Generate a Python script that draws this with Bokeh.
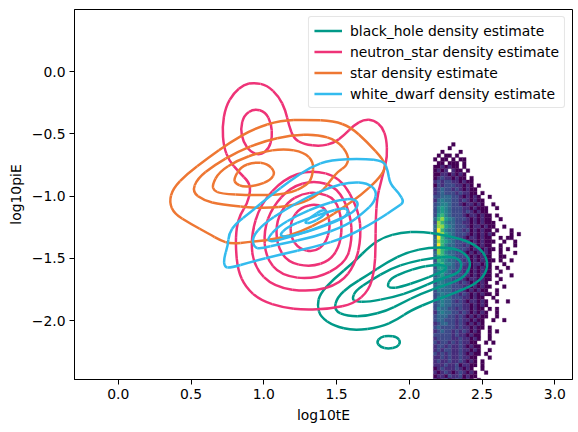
from bokeh.plotting import figure
from bokeh.models import ColumnDataSource, FixedTicker, CustomJSTickFormatter, Range1d
from bokeh.embed import file_html
from bokeh.resources import INLINE

# ---------------- data: KDE contour rings (log10tE, log10piE) ----------------
BH_L1 = [(1.367,-1.877),(1.385,-1.783),(1.481,-1.663),(1.619,-1.529),(1.734,-1.395),(1.825,-1.328),
         (1.939,-1.293),(2.077,-1.283),(2.215,-1.307),(2.398,-1.355),(2.501,-1.435),(2.540,-1.529),
         (2.524,-1.623),(2.455,-1.703),(2.329,-1.770),(2.169,-1.837),(2.008,-1.917),(1.917,-1.990),
         (1.802,-2.050),(1.619,-2.080),(1.481,-2.040),(1.390,-1.970)]
BH_L1_ISLAND = [(1.774,-2.171),(1.802,-2.131),(1.855,-2.118),(1.917,-2.131),(1.940,-2.171),
                (1.917,-2.211),(1.855,-2.225),(1.802,-2.211)]
BH_L2 = [(1.481,-1.917),(1.504,-1.810),(1.596,-1.716),(1.710,-1.636),(1.848,-1.529),(1.985,-1.449),
         (2.146,-1.409),(2.329,-1.417),(2.409,-1.489),(2.421,-1.569),(2.364,-1.663),(2.237,-1.716),
         (2.077,-1.783),(1.940,-1.863),(1.848,-1.917),(1.710,-1.963),(1.573,-1.963)]
BH_L3 = [(1.607,-1.823),(1.630,-1.757),(1.733,-1.676),(1.870,-1.582),(2.008,-1.529),(2.146,-1.497),
         (2.294,-1.483),(2.352,-1.515),(2.359,-1.569),(2.329,-1.623),(2.215,-1.663),(2.031,-1.757),
         (1.893,-1.810),(1.710,-1.850),(1.630,-1.845)]
BH_L4 = [(1.848,-1.717),(1.870,-1.663),(1.962,-1.609),(2.077,-1.569),(2.146,-1.556),(2.237,-1.550),
         (2.260,-1.583),(2.191,-1.623),(2.077,-1.676),(1.939,-1.730),(1.870,-1.738)]

NS_L1 = [(0.932,-0.088),(1.023,-0.110),(1.103,-0.200),(1.149,-0.311),(1.172,-0.431),(1.206,-0.538),
         (1.275,-0.584),(1.390,-0.600),(1.481,-0.573),(1.550,-0.512),(1.619,-0.431),(1.688,-0.385),
         (1.756,-0.390),(1.814,-0.445),(1.843,-0.538),(1.848,-0.686),(1.825,-0.793),(1.802,-0.900),
         (1.779,-1.007),(1.768,-1.194),(1.768,-1.409),(1.761,-1.596),(1.722,-1.757),(1.619,-1.864),
         (1.458,-1.904),(1.275,-1.912),(1.138,-1.896),(0.977,-1.837),(0.874,-1.730),(0.822,-1.596),
         (0.806,-1.409),(0.812,-1.248),(0.840,-1.141),(0.886,-1.060),(0.909,-0.953),(0.897,-0.886),
         (0.828,-0.806),(0.760,-0.712),(0.725,-0.605),(0.714,-0.445),(0.737,-0.284),(0.794,-0.170),
         (0.863,-0.105)]
NS_L2_UPPER = [(0.932,-0.297),(1.012,-0.324),(1.051,-0.418),(1.058,-0.525),(1.035,-0.619),
               (0.977,-0.672),(0.909,-0.646),(0.858,-0.565),(0.840,-0.458),(0.863,-0.351)]
NS_L2 = [(1.321,-0.788),(1.527,-0.846),(1.653,-1.114),(1.669,-1.328),(1.630,-1.542),(1.527,-1.703),
         (1.321,-1.770),(1.069,-1.730),(0.932,-1.569),(0.909,-1.328),(0.977,-1.061),(1.138,-0.860)]
NS_L3 = [(1.344,-0.873),(1.504,-0.927),(1.596,-1.141),(1.607,-1.355),(1.561,-1.542),(1.344,-1.671),
         (1.115,-1.636),(1.012,-1.489),(1.000,-1.275),(1.058,-1.087),(1.184,-0.927)]
NS_L4 = [(1.367,-0.967),(1.493,-1.020),(1.538,-1.194),(1.527,-1.382),(1.458,-1.516),(1.321,-1.569),
         (1.160,-1.529),(1.087,-1.382),(1.087,-1.194),(1.160,-1.047),(1.264,-0.980)]
NS_L5 = [(1.367,-1.061),(1.436,-1.114),(1.458,-1.248),(1.424,-1.382),(1.344,-1.449),(1.242,-1.422),
         (1.184,-1.328),(1.184,-1.194),(1.253,-1.087)]

ST_L1 = [(0.350,-1.047),(0.375,-0.940),(0.473,-0.820),(0.611,-0.699),(0.771,-0.565),(0.932,-0.458),
         (1.115,-0.391),(1.298,-0.386),(1.481,-0.397),(1.596,-0.445),(1.710,-0.565),(1.825,-0.712),
         (1.837,-0.779),(1.779,-0.873),(1.665,-0.994),(1.550,-1.087),(1.412,-1.194),(1.252,-1.288),
         (1.092,-1.342),(0.909,-1.368),(0.771,-1.382),(0.702,-1.355),(0.622,-1.302),(0.496,-1.221),
         (0.385,-1.141)]
ST_L2 = [(0.508,-0.967),(0.542,-0.860),(0.657,-0.753),(0.817,-0.645),(1.000,-0.557),(1.184,-0.512),
         (1.367,-0.504),(1.504,-0.552),(1.584,-0.672),(1.573,-0.753),(1.504,-0.806),(1.458,-0.873),
         (1.390,-0.980),(1.229,-1.074),(0.977,-1.101),(0.702,-1.066),(0.588,-1.034)]
ST_L3 = [(0.645,-0.913),(0.691,-0.806),(0.817,-0.713),(0.977,-0.646),(1.138,-0.619),(1.275,-0.646),
         (1.344,-0.726),(1.332,-0.847),(1.298,-0.913),(1.160,-0.986),(0.909,-0.994),(0.702,-0.980),
         (0.657,-0.953)]
ST_L4 = [(0.794,-0.860),(0.840,-0.766),(0.932,-0.726),(1.023,-0.739),(1.080,-0.806),(1.046,-0.873),
         (0.955,-0.913),(0.863,-0.927),(0.805,-0.900)]

WD_L1 = [(0.730,-1.569),(0.725,-1.502),(0.753,-1.395),(0.760,-1.302),(0.805,-1.221),(0.909,-1.128),
         (1.046,-0.994),(1.184,-0.873),(1.321,-0.766),(1.458,-0.707),(1.688,-0.699),(1.825,-0.718),
         (1.852,-0.793),(1.866,-0.900),(1.928,-0.975),(1.965,-1.047),(1.917,-1.087),(1.779,-1.194),
         (1.573,-1.328),(1.344,-1.409),(1.115,-1.468),(0.909,-1.529),(0.771,-1.575)]
WD_L2 = [(0.932,-1.409),(0.920,-1.328),(1.000,-1.221),(1.138,-1.114),(1.298,-1.007),(1.458,-0.927),
         (1.596,-0.886),(1.710,-0.894),(1.775,-0.953),(1.761,-1.047),(1.688,-1.128),(1.573,-1.234),
         (1.344,-1.328),(1.115,-1.382),(0.977,-1.422)]
WD_L3 = [(1.023,-1.342),(1.092,-1.248),(1.229,-1.154),(1.390,-1.074),(1.527,-1.028),(1.618,-1.020),
         (1.653,-1.061),(1.619,-1.128),(1.504,-1.194),(1.321,-1.275),(1.138,-1.342),(1.046,-1.368)]
WD_L4 = [(1.103,-1.315),(1.160,-1.248),(1.298,-1.181),(1.436,-1.128),(1.538,-1.093),(1.584,-1.109),
         (1.561,-1.168),(1.458,-1.221),(1.298,-1.288),(1.160,-1.328)]
WD_L5 = [(1.275,-1.216),(1.321,-1.168),(1.401,-1.109),(1.436,-1.120),(1.401,-1.168),(1.321,-1.216)]

CLASSES = ["black_hole", "neutron_star", "star", "white_dwarf"]
CLASS_RINGS = {
    "black_hole": [BH_L1, BH_L1_ISLAND, BH_L2, BH_L3, BH_L4],
    "neutron_star": [NS_L1, NS_L2_UPPER, NS_L2, NS_L3, NS_L4, NS_L5],
    "star": [ST_L1, ST_L2, ST_L3, ST_L4],
    "white_dwarf": [WD_L1, WD_L2, WD_L3, WD_L4, WD_L5],
}

# ---------------- data: 2-D count map of the black_hole sample (hexbin) ----------------
# bins: log10tE from 2.165 in steps of 0.025 (columns), log10piE from -0.57 down in steps of 0.03 (rows)
# ' ' = empty, '.' = lowest count, '1'..'8' = increasing count
HEX_X_START, HEX_X_STEP = 2.165, 0.025
HEX_Y_START, HEX_Y_STEP = -0.57, 0.03
HEX_MAP = [
    "     .                   ",
    "    .                    ",
    "  .    .                 ",
    " . .. .                  ",
    ". .. . ..                ",
    " .. ... .                ",
    "..1.1.. .                ",
    ".1.1 1.. .               ",
    "..11.1.1.                ",
    ".1211.1.. .              ",
    "1212211.1..              ",
    ".2122211.1. .            ",
    "12322121.1..             ",
    "1232221211.. .           ",
    "22333221.1.1.  .         ",
    "1343322121.1..           ",
    "23443221.11.1.  .        ",
    "2454322211.1...  .       ",
    "24543222121.1..          ",
    "256432221.11.1.. .       ",
    "3675432221.1.1..  .      ",
    "2764332211.1.1...        ",
    "3775432221.11.1..  .     ",
    "3864332212.1.1.. .   .   ",
    "2775432221.1.1.1.    . . ",
    "386433221.11.1..  . ..   ",
    "3765432221.1.1...  .  .  ",
    "3864332212.1.1..  .   .  ",
    "2765432221.11.1.. . .    ",
    "376433221.1.1.1.  .   .  ",
    "3665432221.1.1..  ..     ",
    "2654332212.1.1... .  .   ",
    "3564432221.11.1.   .     ",
    "2554332211.1.1.. .  .    ",
    "3454322212.1.1..  .      ",
    "2453322211.1.1.. .   .   ",
    "344332221.11.1..  .      ",
    "2443322121.1.1.  .       ",
    "3443322211.1.1..   .     ",
    "243332221.1.1..  .       ",
    "2343322121.1.1.. .       ",
    "2443322211.1..  .        ",
    "234332121.11.1.  .  .    ",
    "2343322211.1.1.          ",
    "2433221211.1.. . .       ",
    "1343322121.1.1.  .       ",
    "233322121.1.1..  .       ",
    "2332221211.1..  .  .     ",
    "123322121.1.1.           ",
    "2322221211.1.. .         ",
    "1232212121.1.  . .       ",
    "222221211.1..  .         ",
    "1222211211.1.  .         ",
    "2122121211..  . .        ",
    "122121121.1..            ",
    "1212211211.1.  .         ",
    "212121121.1.. .          ",
    "1121211211..   .         ",
    "121121121.1. .           ",
    "1112112.11.. .           ",
    ".1211121.1.  .           ",
    "1.121.121.1.  .          ",
    ".11.2112.1..             ",
    "1.12.121.1. .            ",
]

X_TICKS = [0.0, 0.5, 1.0, 1.5, 2.0, 2.5, 3.0]
Y_TICKS = [-2.0, -1.5, -1.0, -0.5, 0.0]

# ---------------- styles ----------------
COLORS = {"black_hole": "#009988", "neutron_star": "#EE3377", "star": "#EE7733", "white_dwarf": "#33BBEE"}
VIRIDIS9 = ["#440154", "#472d7b", "#3e4a89", "#31688e", "#26828e", "#1f9e89", "#35b779", "#90d743", "#fde725"]
FONT = "DejaVu Sans"
FS = "13.9px"

p = figure(width=578, height=432, output_backend="svg", toolbar_location=None,
           x_range=Range1d(-0.301, 3.121), y_range=Range1d(-2.471, 0.498),
           min_border_left=74, min_border_right=6, min_border_top=9, min_border_bottom=53)
p.background_fill_color = "white"
p.border_fill_color = "white"
p.xgrid.visible = False
p.ygrid.visible = False
p.outline_line_color = "black"
p.outline_line_width = 1
p.outline_line_alpha = 1

# hexbin-like count cells
hx, hy, hc = [], [], []
for j, row in enumerate(HEX_MAP):
    for k, ch in enumerate(row):
        if ch == " ":
            continue
        lvl = 0 if ch == "." else int(ch)
        hx.append(HEX_X_START + HEX_X_STEP * (k + 0.5))
        hy.append(HEX_Y_START - HEX_Y_STEP * (j + 0.5))
        hc.append(VIRIDIS9[lvl])
p.rect(x="x", y="y", width=HEX_X_STEP, height=HEX_Y_STEP,
       source=ColumnDataSource(dict(x=hx, y=hy, c=hc)),
       fill_color="c", line_color="c", line_width=0.3)

# contour rings, drawn as smooth quadratic curves through the ring points
def ring_segments(rings):
    d = dict(x0=[], y0=[], x1=[], y1=[], cx=[], cy=[])
    for ring in rings:
        n = len(ring)
        for i in range(n):
            px, py = ring[i - 1]
            qx, qy = ring[i]
            rx, ry = ring[(i + 1) % n]
            d["x0"].append((px + qx) / 2); d["y0"].append((py + qy) / 2)
            d["x1"].append((qx + rx) / 2); d["y1"].append((qy + ry) / 2)
            d["cx"].append(qx); d["cy"].append(qy)
    return d

for cls in CLASSES:
    src = ColumnDataSource(ring_segments(CLASS_RINGS[cls]))
    p.quadratic(x0="x0", y0="y0", x1="x1", y1="y1", cx="cx", cy="cy", source=src,
                line_color=COLORS[cls], line_width=2.5,
                legend_label=f"{cls} density estimate")

fmt = CustomJSTickFormatter(code="return tick.toFixed(1).replace('-', '\u2212');")
p.xaxis.ticker = FixedTicker(ticks=X_TICKS)
p.yaxis.ticker = FixedTicker(ticks=Y_TICKS)
p.xaxis.formatter = fmt
p.yaxis.formatter = fmt
p.xaxis.axis_label = "log10tE"
p.yaxis.axis_label = "log10piE"
for ax in (p.xaxis, p.yaxis):
    ax.axis_label_text_font = FONT
    ax.axis_label_text_font_size = FS
    ax.axis_label_text_font_style = "normal"
    ax.axis_label_text_color = "black"
    ax.major_label_text_font = FONT
    ax.major_label_text_font_size = FS
    ax.major_label_text_color = "black"
    ax.axis_line_color = "black"
    ax.major_tick_line_color = "black"
    ax.major_tick_out = 5
    ax.major_tick_in = 0
    ax.minor_tick_line_color = None
    ax.major_label_standoff = 4
    ax.axis_label_standoff = 5

lg = p.legend[0]
lg.location = "top_right"
lg.margin = 7
lg.padding = 5
lg.spacing = 4
lg.glyph_width = 28
lg.glyph_height = 17
lg.label_height = 17
lg.label_standoff = 8
lg.label_text_font = FONT
lg.label_text_font_size = FS
lg.label_text_color = "black"
lg.border_line_color = "#cccccc"
lg.border_line_width = 1
lg.background_fill_color = "white"
lg.background_fill_alpha = 0.8
if "border_radius" in lg.properties():
    lg.border_radius = 3

open("out.html", "w").write(file_html(p, INLINE))
